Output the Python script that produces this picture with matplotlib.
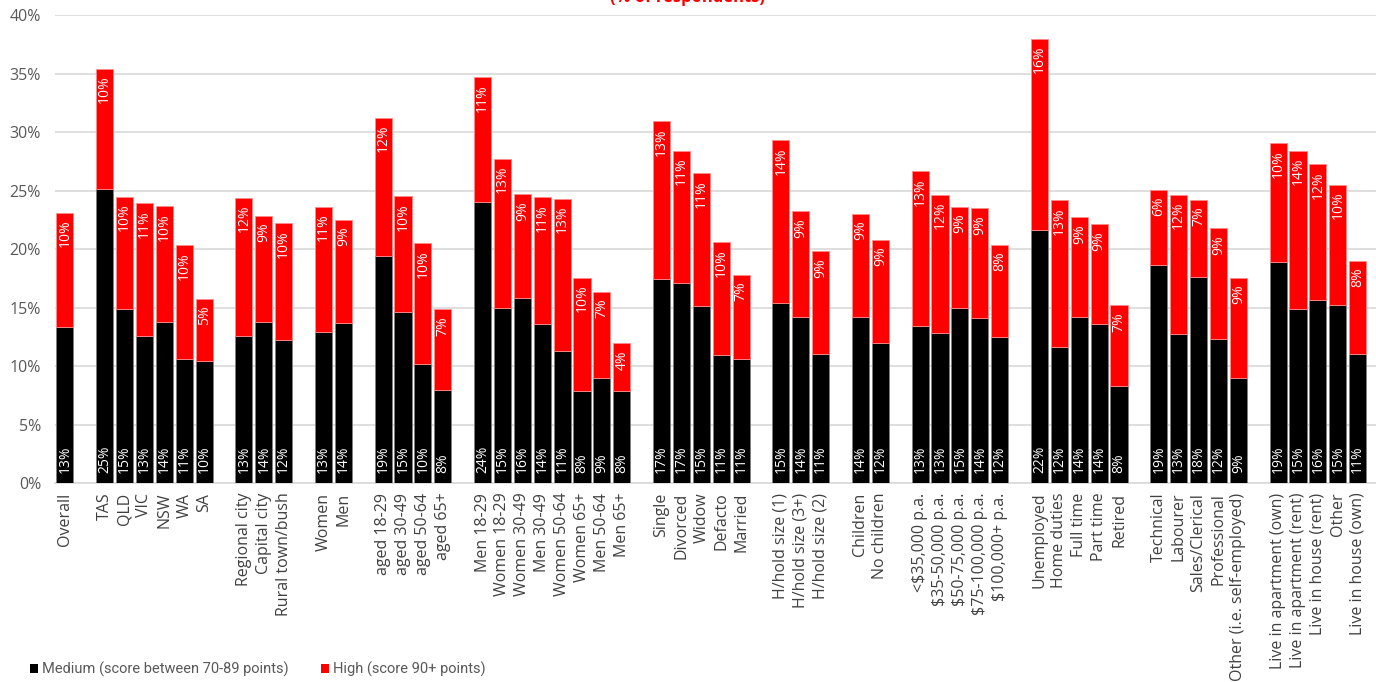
import matplotlib
matplotlib.use("Agg")
import matplotlib.pyplot as plt
from matplotlib.patches import Patch
import numpy as np

plt.rcParams['font.family'] = ['Open Sans', 'DejaVu Sans']

groups = [
    ["Overall"],
    ["TAS", "QLD", "VIC", "NSW", "WA", "SA"],
    ["Regional city", "Capital city", "Rural town/bush"],
    ["Women", "Men"],
    ["aged 18-29", "aged 30-49", "aged 50-64", "aged 65+"],
    ["Men 18-29", "Women 18-29", "Women 30-49", "Men 30-49", "Women 50-64",
     "Women 65+", "Men 50-64", "Men 65+"],
    ["Single", "Divorced", "Widow", "Defacto", "Married"],
    ["H/hold size (1)", "H/hold size (3+)", "H/hold size (2)"],
    ["Children", "No children"],
    ["<$35,000 p.a.", "$35-50,000 p.a.", "$50-75,000 p.a.", "$75-100,000 p.a.",
     "$100,000+ p.a."],
    ["Unemployed", "Home duties", "Full time", "Part time", "Retired"],
    ["Technical", "Labourer", "Sales/Clerical", "Professional",
     "Other (i.e. self-employed)"],
    ["Live in apartment (own)", "Live in apartment (rent)", "Live in house (rent)",
     "Other", "Live in house (own)"],
]

medium = [
    13.3,
    25.15, 14.87, 12.6, 13.8, 10.6, 10.45,
    12.6, 13.8, 12.2,
    12.9, 13.7,
    19.4, 14.6, 10.2, 7.95,
    24.0, 15.0, 15.85, 13.55, 11.3, 7.9, 8.95, 7.9,
    17.45, 17.1, 15.15, 10.95, 10.6,
    15.4, 14.2, 11.0,
    14.15, 11.95,
    13.45, 12.8, 14.95, 14.1, 12.45,
    21.65, 11.6, 14.15, 13.55, 8.3,
    18.6, 12.75, 17.6, 12.35, 9.0,
    18.9, 14.85, 15.65, 15.2, 11.0,
]

high = [
    9.8,
    10.25, 9.6, 11.3, 9.85, 9.7, 5.3,
    11.8, 9.05, 10.0,
    10.7, 8.8,
    11.8, 9.9, 10.3, 6.9,
    10.7, 12.7, 8.85, 10.9, 13.0, 9.65, 7.4, 4.05,
    13.45, 11.3, 11.35, 9.65, 7.2,
    13.9, 9.05, 8.8,
    8.85, 8.85,
    13.2, 11.85, 8.65, 9.4, 7.9,
    16.3, 12.55, 8.55, 8.55, 6.9,
    6.45, 11.9, 6.6, 9.45, 8.55,
    10.15, 13.55, 11.6, 10.3, 8.0,
]

series_names = ["Medium (score between 70-89 points)", "High (score 90+ points)"]
title_text = "(% of respondents)"
yticks = [0, 5, 10, 15, 20, 25, 30, 35, 40]

# positions with a blank slot between groups
labels, pos = [], []
p = 0
for g in groups:
    for c in g:
        labels.append(c)
        pos.append(p)
        p += 1
    p += 1
pos = np.array(pos, dtype=float)
medium = np.array(medium)
high = np.array(high)

fig = plt.figure(figsize=(13.76, 6.82), dpi=100)
ax = fig.add_axes([55/1376, 1-483/682, 1-55/1376, (483-15)/682])

w = 0.86
ax.bar(pos, medium, width=w, color="#000000", edgecolor="#7f7f7f", linewidth=0.6, zorder=3)
ax.bar(pos, high, width=w, bottom=medium, color="#ff0000", edgecolor="#ff8c8c", linewidth=0.6, zorder=3)

for x, m, h in zip(pos, medium, high):
    ax.annotate(f"{m:.0f}%", (x, 0), xytext=(0, 7), textcoords="offset points",
                rotation=90, ha="center", va="bottom", color="white", fontsize=10, zorder=4)
    ax.annotate(f"{h:.0f}%", (x, m + h), xytext=(0, -5), textcoords="offset points",
                rotation=90, ha="center", va="top", color="white", fontsize=10, zorder=4)

ax.set_xlim(-0.5, (1376-65.5)/19.88)
ax.set_ylim(0, 40)
ax.set_yticks(yticks)
ax.set_yticklabels([f"{t}%" for t in yticks], color="#595959", fontsize=11.5)
ax.set_xticks(pos)
ax.set_xticklabels(labels, rotation=90, color="#404040", fontsize=11.5)
ax.tick_params(axis="both", length=0)
ax.tick_params(axis="x", pad=7)
ax.tick_params(axis="y", pad=10)
ax.grid(axis="y", color="#d9d9d9", linewidth=1.2, zorder=0)
for s in ["top", "right", "left"]:
    ax.spines[s].set_visible(False)
ax.spines["bottom"].set_color("#d9d9d9")
ax.spines["bottom"].set_linewidth(1.2)

fig.text(0.5, 1 + 3/682, title_text, ha="center", va="center", color="#ff0000",
         fontsize=12, fontweight="bold")

handles = [Patch(facecolor="#000000"), Patch(facecolor="#ff0000")]
fig.legend(handles, series_names, loc="lower left", bbox_to_anchor=(0.012, -0.012),
           ncol=2, frameon=False, prop={'family': ['Roboto', 'DejaVu Sans'], 'size': 10.5},
           handlelength=0.55, handleheight=0.55,
           handletextpad=0.3, columnspacing=2.2, labelcolor="#595959")

fig.savefig("out.png", dpi=100)
